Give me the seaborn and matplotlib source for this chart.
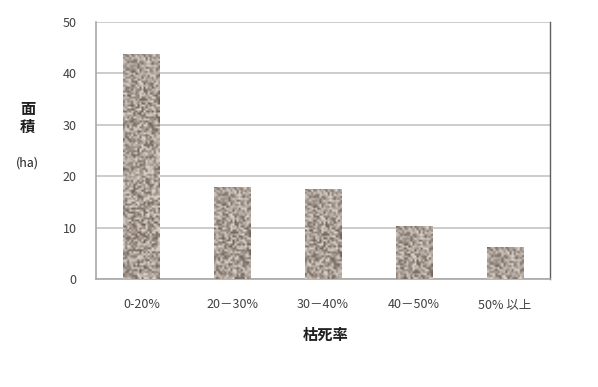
import numpy as np
import pandas as pd
import matplotlib
matplotlib.use("Agg")
import matplotlib.pyplot as plt
import seaborn as sns

# data
categories = ["0-20%", "20－30%", "30－40%", "40－50%", "50% 以上"]
area_ha = [43.8, 18.0, 17.6, 10.3, 6.2]
y_ticks = [0, 10, 20, 30, 40, 50]

df = pd.DataFrame({"rate": categories, "area": area_ha})

sns.set_style("white")
plt.rcParams["font.family"] = ["Noto Sans CJK JP", "DejaVu Sans"]

fig = plt.figure(figsize=(5.98, 3.87), dpi=100)
ax = fig.add_axes([0.1605, 0.279, 0.7595, 0.664])

sns.barplot(data=df, x="rate", y="area", ax=ax, width=0.4,
            color="#978a80", edgecolor="none", saturation=1, zorder=2)

# granite-like fill texture (style only, not data), clipped to every bar
rng = np.random.default_rng(3)
noise = rng.random((130, 18))
dark = np.array([108, 94, 84]) / 255
light = np.array([226, 218, 210]) / 255
tex = dark + (light - dark) * noise[..., None] ** 0.9
for p in ax.patches:
    x0, y0 = p.get_x(), p.get_y()
    w, h = p.get_width(), p.get_height()
    rows = max(3, int(round(130 * h / 50)))
    im = ax.imshow(tex[:rows], extent=[x0, x0 + w, y0, y0 + h], aspect="auto",
                   interpolation="bilinear", zorder=3)
    im.set_clip_path(p)

ax.set_xlim(-0.5, len(categories) - 0.5)
ax.set_ylim(0, 50)
ax.set_yticks(y_ticks)
ax.yaxis.grid(True, color="#c4c4c4", linewidth=1.2, zorder=0)
ax.set_axisbelow(True)

ax.set_xticks(np.arange(len(categories)))
ax.set_xticklabels(categories, fontsize=9, color="#404040")
ax.set_xticks(np.arange(-0.5, len(categories)), minor=True)
ax.tick_params(axis="x", which="major", length=0, pad=14)
ax.tick_params(axis="x", which="minor", length=5, color="#a0a0a0", direction="out")
ax.tick_params(axis="y", length=5, color="#a0a0a0", direction="out",
               labelsize=9, labelcolor="#404040", pad=9)

for s in ["left", "bottom"]:
    ax.spines[s].set_color("#a8a8a8")
    ax.spines[s].set_linewidth(1.2)
ax.spines["top"].set_visible(False)
ax.spines["right"].set_color("#606060")
ax.spines["right"].set_linewidth(1.0)

ax.set_xlabel("")
ax.set_ylabel("")
fig.text(0.544, 0.135, "枯死率", ha="center", va="center",
         fontsize=11, fontweight="bold", color="#202020")
fig.text(0.046, 0.695, "面\n積", ha="center", va="center",
         fontsize=11, fontweight="bold", color="#202020", linespacing=1.2)
fig.text(0.046, 0.578, "(ha)", ha="center", va="center",
         fontsize=9, color="#202020")

fig.savefig("out.png", dpi=100)
